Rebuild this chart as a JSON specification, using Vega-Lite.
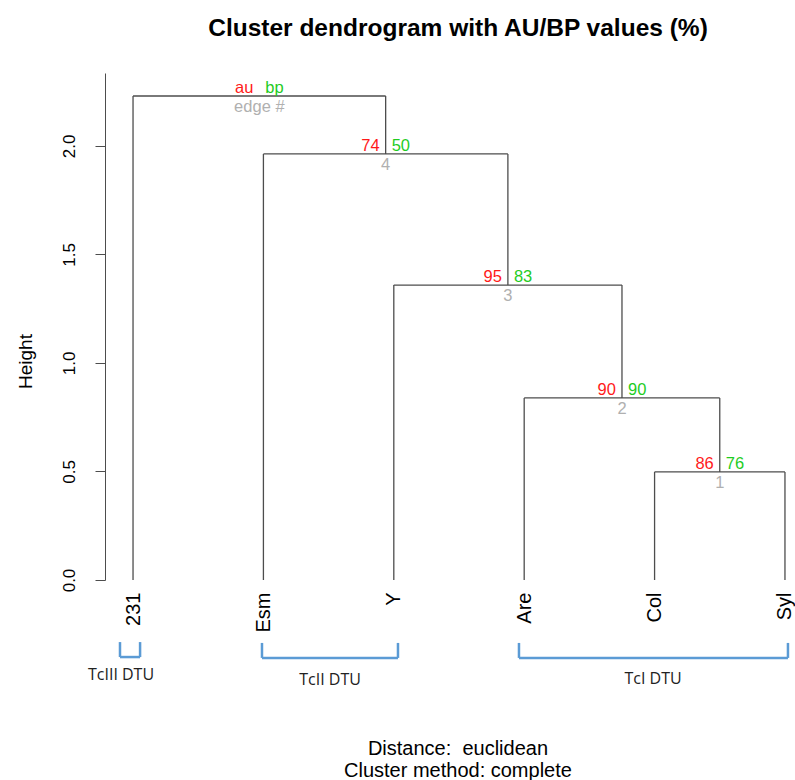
{
  "$schema": "https://vega.github.io/schema/vega-lite/v6.json",
  "width": 690,
  "height": 507,
  "autosize": "none",
  "padding": {"left": 105, "top": 73, "right": 0, "bottom": 200},
  "background": "white",
  "title": {"text": "Cluster dendrogram with AU/BP values (%)", "font": "Liberation Sans", "fontSize": 24.5, "fontWeight": "bold", "color": "black", "anchor": "middle", "dx": 8, "offset": 13, "baseline": "alphabetic"},
  "config": {"view": {"stroke": null}, "axis": {"grid": false}},
  "datasets": {
    "tree": [
      {"x1": 1, "x2": 2.9375, "y1": 2.23, "y2": 2.23},
      {"x1": 2, "x2": 3.875, "y1": 1.963, "y2": 1.963},
      {"x1": 3, "x2": 4.75, "y1": 1.359, "y2": 1.359},
      {"x1": 4, "x2": 5.5, "y1": 0.839, "y2": 0.839},
      {"x1": 5, "x2": 6, "y1": 0.498, "y2": 0.498},
      {"x1": 1, "x2": 1, "y1": 0, "y2": 2.23},
      {"x1": 2.9375, "x2": 2.9375, "y1": 1.963, "y2": 2.23},
      {"x1": 2, "x2": 2, "y1": 0, "y2": 1.963},
      {"x1": 3.875, "x2": 3.875, "y1": 1.359, "y2": 1.963},
      {"x1": 3, "x2": 3, "y1": 0, "y2": 1.359},
      {"x1": 4.75, "x2": 4.75, "y1": 0.839, "y2": 1.359},
      {"x1": 4, "x2": 4, "y1": 0, "y2": 0.839},
      {"x1": 5.5, "x2": 5.5, "y1": 0.498, "y2": 0.839},
      {"x1": 5, "x2": 5, "y1": 0, "y2": 0.498},
      {"x1": 6, "x2": 6, "y1": 0, "y2": 0.498}
    ],
    "nodes": [
      {"x": 1.96875, "y": 2.23, "au": "au", "bp": "bp", "edge": "edge #"},
      {"x": 2.9375, "y": 1.963, "au": "74", "bp": "50", "edge": "4"},
      {"x": 3.875, "y": 1.359, "au": "95", "bp": "83", "edge": "3"},
      {"x": 4.75, "y": 0.839, "au": "90", "bp": "90", "edge": "2"},
      {"x": 5.5, "y": 0.498, "au": "86", "bp": "76", "edge": "1"}
    ],
    "brackets": [
      {"x1": 0.9, "x2": 0.9, "y1": -0.286, "y2": -0.355},
      {"x1": 0.9, "x2": 1.054, "y1": -0.355, "y2": -0.355},
      {"x1": 1.054, "x2": 1.054, "y1": -0.286, "y2": -0.355},
      {"x1": 1.989, "x2": 1.989, "y1": -0.29, "y2": -0.359},
      {"x1": 1.989, "x2": 3.032, "y1": -0.359, "y2": -0.359},
      {"x1": 3.032, "x2": 3.032, "y1": -0.29, "y2": -0.359},
      {"x1": 3.96, "x2": 3.96, "y1": -0.29, "y2": -0.359},
      {"x1": 3.96, "x2": 6.023, "y1": -0.359, "y2": -0.359},
      {"x1": 6.023, "x2": 6.023, "y1": -0.29, "y2": -0.359}
    ],
    "groups": [
      {"x": 0.908, "y": -0.44, "label": "TcIII DTU"},
      {"x": 2.511, "y": -0.46, "label": "TcII DTU"},
      {"x": 4.988, "y": -0.455, "label": "TcI DTU"}
    ],
    "captions": [
      {"x": 3.492, "y": -0.779, "label": "Distance:\u00a0 euclidean"},
      {"x": 3.492, "y": -0.88, "label": "Cluster method: complete"}
    ]
  },
  "layer": [
    {
      "data": {"name": "tree"},
      "mark": {"type": "rule", "color": "#4d4d4d", "strokeWidth": 1.3},
      "encoding": {
        "x": {"field": "x1", "type": "quantitative", "scale": {"domain": [0.785, 6.077], "nice": false, "zero": false},
          "axis": {"values": [1, 2, 3, 4, 5, 6], "labelExpr": "['','231','Esm','Y','Are','Col','Syl'][datum.value]", "labelAngle": -90, "labelAlign": "right", "labelBaseline": "middle", "labelPadding": 12, "domain": false, "ticks": false, "labelFontSize": 20, "labelFont": "Liberation Sans", "labelColor": "black", "title": null, "labelOverlap": false, "labelBound": false, "labelFlush": false}},
        "x2": {"field": "x2"},
        "y": {"field": "y1", "type": "quantitative", "scale": {"domain": [0, 2.336], "nice": false, "zero": false},
          "axis": {"values": [0, 0.5, 1, 1.5, 2], "format": ".1f", "labelAngle": -90, "labelAlign": "center", "labelBaseline": "bottom", "labelPadding": 17, "tickSize": 10, "tickColor": "#4d4d4d", "domainColor": "#4d4d4d", "labelFontSize": 17, "labelFont": "Liberation Sans", "labelColor": "black", "labelFlush": false, "labelOverlap": false, "title": "Height", "titleFont": "Liberation Sans", "titleFontSize": 19, "titleFontWeight": "normal", "titleColor": "black", "titleX": -80, "titleY": 288, "titleAngle": -90, "titleAlign": "center", "titleBaseline": "middle"}},
        "y2": {"field": "y2"}
      }
    },
    {
      "data": {"name": "nodes"},
      "mark": {"type": "text", "align": "right", "baseline": "alphabetic", "dx": -6, "dy": -3, "font": "Liberation Sans", "fontSize": 16.5, "color": "#ff1a1a"},
      "encoding": {"x": {"field": "x", "type": "quantitative"}, "y": {"field": "y", "type": "quantitative"}, "text": {"field": "au"}}
    },
    {
      "data": {"name": "nodes"},
      "mark": {"type": "text", "align": "left", "baseline": "alphabetic", "dx": 6, "dy": -3, "font": "Liberation Sans", "fontSize": 16.5, "color": "#1fcc1f"},
      "encoding": {"x": {"field": "x", "type": "quantitative"}, "y": {"field": "y", "type": "quantitative"}, "text": {"field": "bp"}}
    },
    {
      "data": {"name": "nodes"},
      "mark": {"type": "text", "align": "center", "baseline": "top", "dy": 3, "font": "Liberation Sans", "fontSize": 16.5, "color": "#b0b0b0"},
      "encoding": {"x": {"field": "x", "type": "quantitative"}, "y": {"field": "y", "type": "quantitative"}, "text": {"field": "edge"}}
    },
    {
      "data": {"name": "brackets"},
      "mark": {"type": "rule", "color": "#5b9bd5", "strokeWidth": 2.5},
      "encoding": {"x": {"field": "x1", "type": "quantitative"}, "x2": {"field": "x2"}, "y": {"field": "y1", "type": "quantitative"}, "y2": {"field": "y2"}}
    },
    {
      "data": {"name": "groups"},
      "mark": {"type": "text", "align": "center", "baseline": "middle", "font": "Open Sans", "fontSize": 16, "color": "#222222"},
      "encoding": {"x": {"field": "x", "type": "quantitative"}, "y": {"field": "y", "type": "quantitative"}, "text": {"field": "label"}}
    },
    {
      "data": {"name": "captions"},
      "mark": {"type": "text", "align": "center", "baseline": "middle", "font": "Liberation Sans", "fontSize": 20, "color": "black"},
      "encoding": {"x": {"field": "x", "type": "quantitative"}, "y": {"field": "y", "type": "quantitative"}, "text": {"field": "label"}}
    }
  ]
}
